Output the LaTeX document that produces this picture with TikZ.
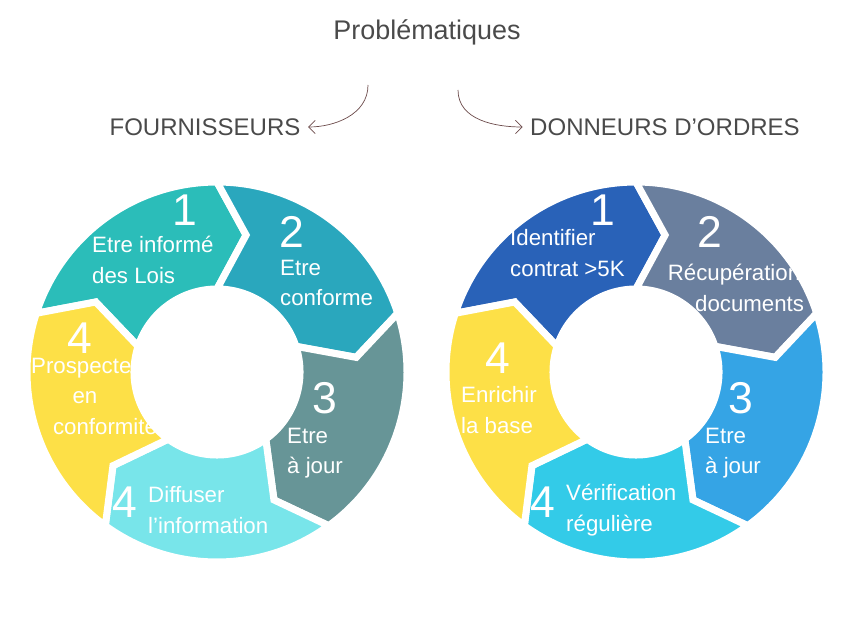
\documentclass[tikz,border=0pt]{standalone}
\usepackage{fontspec}
\setmainfont{Liberation Sans}
\usetikzlibrary{arrows.meta,positioning,calc}
\definecolor{tealone}{HTML}{2BBDB9}
\definecolor{tealtwo}{HTML}{2AA7BD}
\definecolor{greyteal}{HTML}{679597}
\definecolor{lightcyan}{HTML}{78E5EA}
\definecolor{sunyellow}{HTML}{FDE047}
\definecolor{deepblue}{HTML}{2962B8}
\definecolor{slateblue}{HTML}{6A7F9E}
\definecolor{skyblue}{HTML}{35A4E5}
\definecolor{brightcyan}{HTML}{33CBE8}
\definecolor{titlegrey}{HTML}{4A4A4A}
\definecolor{arrowbrown}{HTML}{6B4A4A}
\tikzset{
  segtext/.style={text=white, font=\fontsize{19}{26}\selectfont, align=left, inner sep=0pt},
  segnum/.style={text=white, font=\fontsize{38}{38}\selectfont, inner sep=0pt},
  headtext/.style={text=titlegrey, font=\fontsize{20.5}{24}\selectfont},
  curvearrow/.style={arrowbrown, -{Straight Barb[length=2mm]}, semithick, shorten >=3pt}
}
% one segment of a cycle: centre x, centre y, start angle (screen, ccw), colour
\newcommand{\cyclepart}[4]{%
  \fill[#4, draw=white, line width=6pt, line join=miter]
    ($(#1,#2)+(-#3:190)$) arc[start angle=-#3, end angle=-#3+72, radius=190]
    -- ($(#1,#2)+(-#3+84:140)$) -- ($(#1,#2)+(-#3+72:83)$)
    arc[start angle=-#3+72, end angle=-#3, radius=83]
    -- ($(#1,#2)+(-#3+12:140)$) -- cycle;}
\begin{document}
\begin{tikzpicture}[x=0.03cm, y=-0.03cm]
    \useasboundingbox (0,0) rectangle (851,627);

    % Titles
    \node[headtext, font=\fontsize{23}{26}\selectfont] (prob) at (427,32) {Problématiques};
    \node[headtext] (four) at (205,127) {FOURNISSEURS};
    \node[headtext] (donn) at (665,127) {DONNEURS D’ORDRES};
    \coordinate (lstart) at (368,85);
    \coordinate (rstart) at (458,90);
    \draw[curvearrow] (lstart) to[out=-90, in=0] (four.east);
    \draw[curvearrow] (rstart) to[out=-90, in=180] (donn.west);

    % Cycles
    \foreach \s/\c in {162/tealone, 90/tealtwo, 18/greyteal, -54/lightcyan, -126/sunyellow}
      \cyclepart{217}{372}{\s}{\c};
    \foreach \s/\c in {162/deepblue, 90/slateblue, 18/skyblue, -54/brightcyan, -126/sunyellow}
      \cyclepart{636}{372}{\s}{\c};

    % Left texts
    \node[segnum] (lone) at (185,210) {1};
    \node[segtext, anchor=west] (lonet) at (92,260) {Etre informé\\des Lois};
    \node[segnum] (ltwo) at (292,232) {2};
    \node[segtext, anchor=west] (ltwot) at (280,283) {Etre\\conforme};
    \node[segnum] (lthree) at (325,398) {3};
    \node[segtext, anchor=west] (lthreet) at (287,453) {Etre\\à jour};
    \node[segnum] (lfour) at (125,502) {4};
    \node[segtext, anchor=west] (lfourt) at (148,510) {Diffuser\\l’information};
    \node[segnum] (lfive) at (80,338) {4};
    \node[segtext, align=center] (lfivet) at (85,396) {Prospecter\\en\hspace*{2.2em}\\\hspace*{1.8em}conformité};

    % Right texts
    \node[segnum] (rone) at (603,210) {1};
    \node[segtext, anchor=west] (ronet) at (510,253) {Identifier\\contrat >5K};
    \node[segnum] (rtwo) at (710,232) {2};
    \node[segtext, align=center] (rtwot) at (734,288) {Récupération\\\hspace*{1.4em}documents};
    \node[segnum] (rthree) at (741,398) {3};
    \node[segtext, anchor=west] (rthreet) at (705,453) {Etre\\à jour};
    \node[segnum] (rfour) at (543,502) {4};
    \node[segtext, anchor=west] (rfourt) at (566,510) {Vérification\\régulière};
    \node[segnum] (rfive) at (498,358) {4};
    \node[segtext, anchor=west] (rfivet) at (461,410) {Enrichir\\la base};
\end{tikzpicture}
\end{document}
